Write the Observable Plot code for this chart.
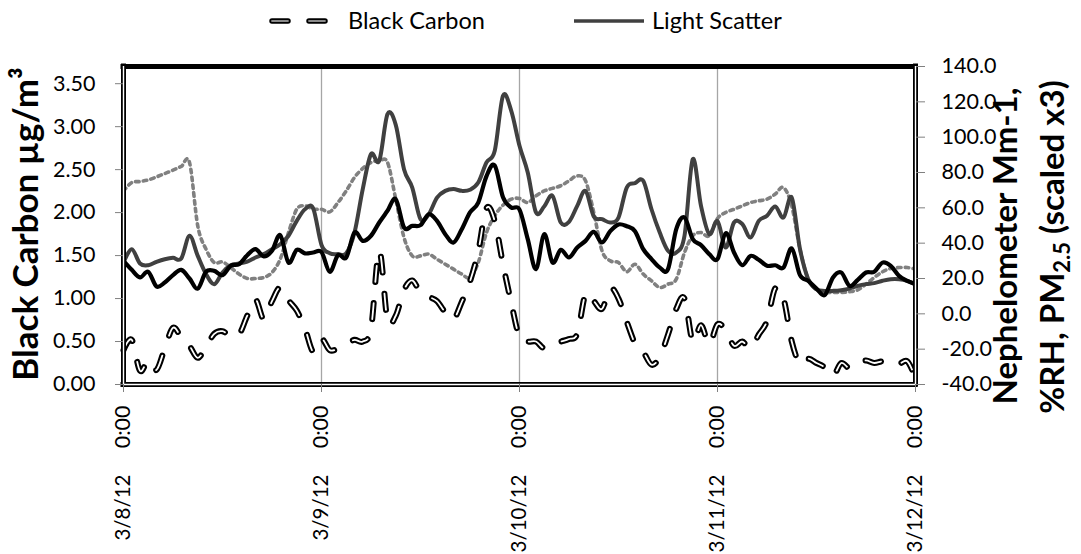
<!DOCTYPE html>
<html><head><meta charset="utf-8">
<script src="https://cdn.jsdelivr.net/npm/d3@7"></script>
<script src="https://cdn.jsdelivr.net/npm/@observablehq/plot@0.6"></script>
<style>
html,body{margin:0;padding:0;background:#fff;}
#wrap{position:relative;width:1081px;height:554px;overflow:hidden;}
</style></head><body><div id="wrap"></div>
<script>
// ---- data (hourly, 3/8/12 0:00 .. 3/12/12 0:00) ----
const dayLabels = ["3/8/12", "3/9/12", "3/10/12", "3/11/12", "3/12/12"];
const timeLabel = "0:00";
const leftTicks = [0, 0.5, 1, 1.5, 2, 2.5, 3, 3.5];
const rightTicks = [-40, -20, 0, 20, 40, 60, 80, 100, 120, 140];
const seriesNames = ["Black Carbon", "Light Scatter"];

// Black Carbon, µg/m³ (left axis)
const blackCarbon = [
 0.40,0.52,0.16,0.28,0.17,0.42,0.66,0.55,0.45,0.31,0.44,0.59,0.62,0.56,0.58,0.80,0.99,0.76,0.97,1.13,0.98,0.86,0.65,0.38,
 0.53,0.40,0.42,0.47,0.52,0.50,0.65,1.55,0.75,0.80,1.10,1.21,1.07,1.02,0.97,0.84,0.76,0.96,1.20,1.55,2.05,1.90,1.40,0.95,
 0.55,0.50,0.50,0.42,0.47,0.50,0.53,0.59,1.05,0.97,0.88,1.12,1.00,0.73,0.48,0.38,0.23,0.32,0.58,0.88,1.00,0.50,0.69,0.47,
 0.70,0.63,0.45,0.50,0.42,0.58,0.74,1.12,1.00,0.50,0.24,0.30,0.25,0.20,0.10,0.25,0.19,0.25,0.28,0.25,0.27,0.26,0.24,0.27,
 0.08];
// Light scatter, Mm-1 (right axis)
const lightScatter = [
 29,36.6,28.5,27.5,29.4,30.9,31.7,31.3,44.2,32.8,22.5,16.8,23.4,27.5,28.5,29.6,31.9,33.8,36.6,39.4,44.2,52.6,59.2,59.6,
 39,34.3,33.8,34.3,46,70.6,90.4,86.6,113,107,81.9,71.5,53.6,56.4,65.8,69.6,70.6,69.6,70.2,74.3,85.7,92.3,123.4,114.9,
 95.1,80,57.4,60.8,66.8,51.7,52.1,61.1,69.6,55.1,53.6,51.7,54.5,71.5,74,75.3,59.2,46,35.7,34.7,44.2,87.5,61.1,45.1,
 52.5,37.5,51.7,50.8,43.2,52.6,55.5,60.8,54.5,65.8,36.6,19.6,13.9,13,13,13.4,14.3,15.8,16.8,17.4,18.7,19.6,19.6,18.7,
 16.8];
// %RH (right axis)
const relHumidity = [
 69.6,74.3,74.9,75.8,77.5,79.4,81.3,83.4,85.7,49.8,36.6,29,29.4,26.2,22.5,20,20,20.6,23.4,31,46,59.2,61.1,59.2,
 59.2,57.7,63,69.6,77.2,82.3,85.7,86.6,85.7,64.9,43.2,32.8,32.8,33.8,30.9,28.1,25.3,22.5,20.6,29,46,55.5,61.5,64.9,
 65.3,63,66.8,69.6,71,72.5,75.3,78.1,75.3,57.4,35.7,30,29,23.8,28.1,22.5,18.7,14.9,16.8,19.6,34.7,44.2,46,44.2,
 54,57.4,59.2,61.1,63,64,64.9,67.8,71.5,61.1,36.6,19.6,13.6,12.1,12.1,12.1,12.5,13.6,16.8,20.6,23.8,25.7,26.2,26.2,
 25.3];
// PM2.5 scaled x3 (right axis)
const pm25x3 = [
 30,24.9,20.6,23.8,15.5,17.7,21.9,24.9,20,14.3,23.8,24.3,21.9,27.2,28.1,33.2,36.6,32.5,35.7,44.5,29,36.2,34.2,34.7,
 35,23.8,33.2,31.9,46,41.3,44.2,51.7,58.3,64.9,48.9,49.8,50.2,56.4,52.6,45.1,40.4,47.9,57.4,63,78,84,66,60.2,
 59,42.3,25.3,45.1,29,36.2,31.9,37.5,41.3,46.4,40.4,46.8,50.6,49.6,46.8,36.6,31,26.2,25.3,47.9,54.5,42.3,38.9,33.8,
 31,45.7,34.7,27.5,32.8,30.6,27.2,27.5,26.2,37,21.9,18.7,14.3,10.6,20.6,23.4,15.8,19.2,23.4,23.8,29,27.2,21.5,18.7,
 16.8];

// ---- scales ----
const RMIN = -40, RMAX = 140, LMAX = 3.7;
const toRight = v => RMIN + v * (RMAX - RMIN) / LMAX;
const toLeft = r => (r - RMIN) * LMAX / (RMAX - RMIN);
const t0 = Date.UTC(2012, 2, 8);
const hourDate = i => new Date(t0 + i * 3600e3);
const days = dayLabels.map((_, i) => new Date(t0 + i * 86400e3));
const fmtDay = d => dayLabels[Math.round((d - t0) / 86400e3)];

const font = "Lato, 'Open Sans', sans-serif";

const lineOpts = (arr, extra) => Plot.line(arr, {x: (d, i) => hourDate(i), y: d => d, curve: "cardinal", ...extra});

const chart = Plot.plot({
  width: 1081, height: 554,
  marginLeft: 123, marginRight: 166, marginTop: 66, marginBottom: 170,
  x: {type: "utc", domain: [days[0], days[4]]},
  y: {domain: [RMIN, RMAX]},
  style: {fontFamily: font, fontSize: "21.5px", color: "#000", background: "#fff", overflow: "visible"},
  marks: [
    Plot.ruleX(days, {x: d => d, stroke: "#a6a6a6", strokeWidth: 1.3}),
    lineOpts(relHumidity, {stroke: "#808080", strokeWidth: 3.6, strokeDasharray: "3.6,4.2"}),
    lineOpts(lightScatter, {stroke: "#404040", strokeWidth: 4}),
    lineOpts(pm25x3, {stroke: "#000", strokeWidth: 4.2}),
    Plot.line(blackCarbon, {x: (d, i) => hourDate(i), y: d => toRight(d), curve: "cardinal", stroke: "#000", strokeWidth: 6, strokeDasharray: "16,21", strokeLinecap: "round"}),
    Plot.line(blackCarbon, {x: (d, i) => hourDate(i), y: d => toRight(d), curve: "cardinal", stroke: "#fff", strokeWidth: 1.8, strokeDasharray: "16,21", strokeLinecap: "round"}),
    // frame
    Plot.ruleY([RMAX], {stroke: "#000", strokeWidth: 5, strokeLinecap: "square"}),
    Plot.ruleY([RMIN], {stroke: "#000", strokeWidth: 5, strokeLinecap: "square"}),
    Plot.ruleX([days[0], days[4]], {x: d => d, stroke: "#000", strokeWidth: 5, strokeLinecap: "square"}),
    Plot.ruleY([RMIN], {stroke: "#fff", strokeWidth: 1.4}),
    Plot.ruleX([days[0], days[4]], {x: d => d, stroke: "#fff", strokeWidth: 1.4, y1: RMIN, y2: RMAX}),
    // axes
    Plot.axisY({anchor: "left", ticks: leftTicks.map(toRight), tickFormat: d => toLeft(d).toFixed(2), tickSize: 8, tickPadding: 20, stroke: "#808080", label: null}),
    Plot.axisY({anchor: "right", ticks: rightTicks, tickFormat: d => d.toFixed(1), tickSize: 9, tickPadding: 17, stroke: "#808080", label: null}),
    Plot.axisX({ticks: days, tickFormat: () => timeLabel, tickRotate: -90, tickSize: 8, tickPadding: 13, stroke: "#808080", label: null}),
    Plot.axisX({ticks: days, tickFormat: fmtDay, tickRotate: -90, tickSize: 0, tickPadding: 90, fontSize: 20.5, label: null})
  ]
});
document.getElementById("wrap").append(chart);

// ---- titles and legend ----
const svg = d3.select(chart);
const g = svg.append("g").attr("font-family", font).attr("fill", "#000").attr("text-anchor", "middle");
g.append("text").attr("transform", "translate(38,224) rotate(-90)")
  .attr("font-size", 35).attr("font-weight", "bold").text("Black Carbon µg/m³");
g.append("text").attr("transform", "translate(1017,246) rotate(-90)")
  .attr("font-size", 33).attr("font-weight", "bold").text("Nephelometer Mm-1,");
const t2 = g.append("text").attr("transform", "translate(1064,247) rotate(-90)")
  .attr("font-size", 33).attr("font-weight", "bold");
t2.append("tspan").text("%RH, PM");
t2.append("tspan").attr("font-size", 22).attr("dy", 6).text("2.5");
t2.append("tspan").attr("dy", -6).text(" (scaled x3)");

// legend
const lg = svg.append("g").attr("font-family", font).attr("text-anchor", "start");
lg.append("line").attr("x1", 272).attr("x2", 327).attr("y1", 21).attr("y2", 21)
  .attr("stroke", "#000").attr("stroke-width", 5.5).attr("stroke-dasharray", "16,21").attr("stroke-linecap", "round");
lg.append("line").attr("x1", 272).attr("x2", 327).attr("y1", 21).attr("y2", 21)
  .attr("stroke", "#8a8a8a").attr("stroke-width", 1.8).attr("stroke-dasharray", "16,21").attr("stroke-linecap", "round");
lg.append("text").attr("x", 348).attr("y", 29).attr("font-size", 23.5).attr("fill", "#000").text(seriesNames[0]);
lg.append("line").attr("x1", 574).attr("x2", 644).attr("y1", 21).attr("y2", 21)
  .attr("stroke", "#404040").attr("stroke-width", 3.6);
lg.append("text").attr("x", 652).attr("y", 29).attr("font-size", 23.5).attr("fill", "#000").text(seriesNames[1]);
</script>
</body></html>
